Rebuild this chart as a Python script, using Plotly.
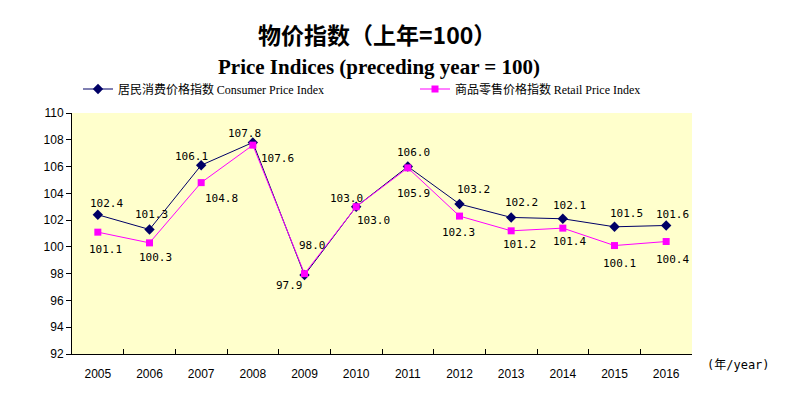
import plotly.graph_objects as go

years = ["2005", "2006", "2007", "2008", "2009", "2010", "2011", "2012", "2013", "2014", "2015", "2016"]
cpi = [102.4, 101.3, 106.1, 107.8, 97.9, 103.0, 106.0, 103.2, 102.2, 102.1, 101.5, 101.6]
rpi = [101.1, 100.3, 104.8, 107.6, 98.0, 103.0, 105.9, 102.3, 101.2, 101.4, 100.1, 100.4]
y_ticks = [92, 94, 96, 98, 100, 102, 104, 106, 108, 110]

# label offsets in pixels (dx right, dy down)
cpi_dx = [9, 2, -10, -8, -15, -10, 6, 14, 10, 7, 12, 6]
cpi_dy = [-11, -15, -9, -9, 10, -8, -14, -15, -15, -13, -13, -11]
rpi_dx = [8, 6, 20, 25, 8, 17, 6, -1, 8, 7, 5, 6]
rpi_dy = [17, 15, 16, 13, -28, 14, 26, 16, 14, 13, 18, 18]

W, H = 800, 395
ML, MR, MT, MB = 64, 116, 105, 49   # page body adds an 8px offset
PW, PH = W - ML - MR, H - MT - MB


def paper_x(xs):
    return (xs - 8 - ML) / PW


def paper_y(ys):
    return (H - MB - (ys - 8)) / PH


label_font = dict(family="DejaVu Sans Mono, monospace", size=11, color="#000000")
legend_font = dict(family="Noto Sans CJK SC, sans-serif", size=12, color="#000000")
serif_span = '<span style="font-family:Liberation Serif, Times New Roman, serif">'

fig = go.Figure()
fig.add_trace(go.Scatter(
    x=years, y=cpi, mode="lines+markers",
    name="居民消费价格指数 " + serif_span + "Consumer Price Index</span>",
    line=dict(color="#000066", width=1),
    marker=dict(symbol="diamond", size=8, color="#000066"),
    legend="legend", cliponaxis=False,
))
fig.add_trace(go.Scatter(
    x=years, y=rpi, mode="lines+markers",
    name="商品零售价格指数 " + serif_span + "Retail Price Index</span>",
    line=dict(color="#FF00FF", width=1),
    marker=dict(symbol="square", size=7, color="#FF00FF"),
    legend="legend2", cliponaxis=False,
))

annotations = []
for i in range(len(years)):
    # category axis: annotation x is the category's serial number
    annotations.append(dict(x=i, y=cpi[i], xref="x", yref="y", text=f"{cpi[i]:.1f}",
                            showarrow=False, xshift=cpi_dx[i], yshift=-cpi_dy[i],
                            font=label_font))
    annotations.append(dict(x=i, y=rpi[i], xref="x", yref="y", text=f"{rpi[i]:.1f}",
                            showarrow=False, xshift=rpi_dx[i], yshift=-rpi_dy[i],
                            font=label_font))

annotations += [
    dict(text="<b>物价指数（上年=100）</b>", xref="paper", yref="paper",
         x=paper_x(377), y=paper_y(34), yanchor="middle", xanchor="center",
         showarrow=False, font=dict(family="Noto Sans CJK SC", size=23, color="#000000")),
    dict(text="<b>Price Indices (preceding year = 100)</b>", xref="paper", yref="paper",
         x=paper_x(379), y=paper_y(67), yanchor="middle", xanchor="center",
         showarrow=False, font=dict(family="Liberation Serif, Times New Roman, serif", size=21,
                                    color="#000000")),
    dict(text="(年/year)", xref="paper", yref="paper",
         x=paper_x(738), y=paper_y(365), xanchor="center", yanchor="middle",
         showarrow=False, font=dict(family="DejaVu Sans Mono, Noto Sans CJK SC, monospace", size=12,
                                    color="#000000")),
]

fig.update_layout(
    width=W, height=H,
    margin=dict(l=ML, r=MR, t=MT, b=MB, autoexpand=False),
    paper_bgcolor="#FFFFFF",
    plot_bgcolor="#FFFFCC",
    font=dict(family="Liberation Sans, Arial, sans-serif", color="#000000"),
    showlegend=True,
    legend=dict(x=paper_x(78), xanchor="left", y=paper_y(89), yanchor="middle", orientation="h",
                bgcolor="rgba(0,0,0,0)", font=legend_font),
    legend2=dict(x=paper_x(415), xanchor="left", y=paper_y(89), yanchor="middle", orientation="h",
                 bgcolor="rgba(0,0,0,0)", font=legend_font),
    annotations=annotations,
)

fig.update_xaxes(
    type="category", categoryorder="array", categoryarray=years,
    range=[-0.5, len(years) - 0.5], autorange=False,
    showgrid=False, showline=True, linecolor="#000000", linewidth=1,
    ticks="inside", tickson="boundaries", ticklen=5, tickcolor="#000000",
    tickfont=dict(size=12, family="Liberation Sans, Arial, sans-serif"),
    ticklabelstandoff=9, tickangle=0, zeroline=False,
)
fig.update_yaxes(
    range=[92, 110], tickvals=y_ticks, ticktext=[str(v) for v in y_ticks],
    showgrid=False, showline=True, linecolor="#000000", linewidth=1,
    ticks="outside", ticklen=5, tickcolor="#000000",
    tickfont=dict(size=12, family="Liberation Sans, Arial, sans-serif"),
    zeroline=False,
)

fig.write_html("out.html")
